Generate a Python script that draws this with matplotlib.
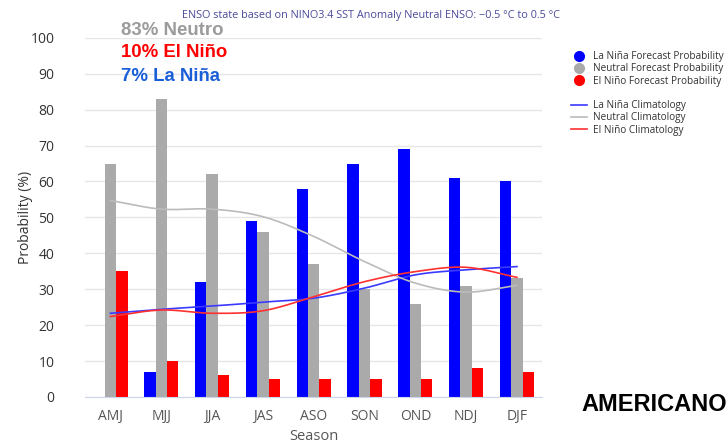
import numpy as np
import matplotlib.pyplot as plt
from matplotlib.lines import Line2D

# ENSO probabilities by season (%)
seasons = ['AMJ', 'MJJ', 'JJA', 'JAS', 'ASO', 'SON', 'OND', 'NDJ', 'DJF']
lanina_prob = [0, 7, 32, 49, 58, 65, 69, 61, 60]
neutral_prob = [65, 83, 62, 46, 37, 30, 26, 31, 33]
elnino_prob = [35, 10, 6, 5, 5, 5, 5, 8, 7]

# climatology curves
lanina_clim = [23.3, 24.4, 25.3, 26.4, 27.5, 30.3, 34.0, 35.4, 36.3]
neutral_clim = [54.7, 52.3, 52.3, 50.2, 44.7, 37.7, 31.7, 29.2, 31.1]
elnino_clim = [22.4, 24.2, 23.3, 24.0, 27.9, 32.1, 34.9, 36.1, 33.3]


def smooth(y, n=20):
    # Catmull-Rom spline through the points
    y = np.asarray(y, dtype=float)
    x = np.arange(len(y), dtype=float)
    m = np.gradient(y)
    xs, ys = [], []
    for i in range(len(y) - 1):
        t = np.linspace(0, 1, n, endpoint=False)
        h00 = 2*t**3 - 3*t**2 + 1
        h10 = t**3 - 2*t**2 + t
        h01 = -2*t**3 + 3*t**2
        h11 = t**3 - t**2
        xs.append(x[i] + t)
        ys.append(h00*y[i] + h10*m[i] + h01*y[i+1] + h11*m[i+1])
    xs.append([x[-1]])
    ys.append([y[-1]])
    return np.concatenate(xs), np.concatenate(ys)


plt.rcParams['font.family'] = ['Open Sans', 'DejaVu Sans']

fig = plt.figure(figsize=(7.27, 4.45), dpi=100)
ax = fig.add_axes([0.117, 0.108, 0.629, 0.807])

x = np.arange(len(seasons))
w = 0.225
ax.bar(x - w, lanina_prob, w, color='#0000ff', zorder=2)
ax.bar(x, neutral_prob, w, color='#aaaaaa', zorder=2)
ax.bar(x + w, elnino_prob, w, color='#ff0000', zorder=2)

for vals, c in [(lanina_clim, '#3a3aff'), (neutral_clim, '#bbbbbb'), (elnino_clim, '#ff3030')]:
    sx, sy = smooth(vals)
    ax.plot(sx, sy, color=c, lw=1.2, zorder=3)

ax.set_xlim(-0.5, len(seasons) - 0.5)
ax.set_ylim(0, 100)
ax.set_yticks(range(0, 101, 10))
ax.set_xticks(x)
ax.set_xticklabels(seasons)
ax.grid(axis='y', color='#e6e6e6', lw=1, zorder=0)
for s in ['top', 'right', 'left']:
    ax.spines[s].set_visible(False)
ax.spines['bottom'].set_color('#ccd6eb')
ax.tick_params(axis='both', length=0, labelsize=10, labelcolor='#333333')
ax.tick_params(axis='x', pad=9, labelcolor='#555555')
ax.tick_params(axis='y', pad=22)
ax.set_ylabel('Probability (%)', fontsize=10, color='#333333', labelpad=-2)
ax.set_xlabel('Season', fontsize=10.5, color='#555555', labelpad=3)

fig.text(0.511, 0.966, 'ENSO state based on NINO3.4 SST Anomaly Neutral ENSO: \u22120.5 \u00b0C to 0.5 \u00b0C',
         ha='center', va='center', fontsize=7.8, color='#4b4b9b')

fig.text(0.166, 0.931, '83% Neutro', fontsize=13.4, fontweight='bold', color='#9b9b9b',
         family=['Liberation Sans'], va='center')
fig.text(0.166, 0.881, '10% El Niño', fontsize=13.4, fontweight='bold', color='#ff0000',
         family=['Liberation Sans'], va='center')
fig.text(0.166, 0.829, '7% La Niña', fontsize=13.4, fontweight='bold', color='#1a5fd8',
         family=['Liberation Sans'], va='center')

fig.text(0.8, 0.09, 'AMERICANO', fontsize=17, fontweight='bold', color='black',
         family=['Liberation Sans'], va='center')

dots = [Line2D([], [], ls='none', marker='o', ms=7, color=c) for c in ['#0000ff', '#aaaaaa', '#ff0000']]
leg1 = fig.legend(dots, ['La Niña Forecast Probability', 'Neutral Forecast Probability',
                         'El Niño Forecast Probability'],
                  loc='upper left', bbox_to_anchor=(0.773, 0.905), frameon=False, fontsize=7.2,
                  labelspacing=0.12, handlelength=1.6, handletextpad=0.6, labelcolor='#333333')
lines = [Line2D([], [], lw=1.2, color=c) for c in ['#3a3aff', '#bbbbbb', '#ff3030']]
leg2 = fig.legend(lines, ['La Niña Climatology', 'Neutral Climatology', 'El Niño Climatology'],
                  loc='upper left', bbox_to_anchor=(0.773, 0.795), frameon=False, fontsize=7.2,
                  labelspacing=0.12, handlelength=1.6, handletextpad=0.6, labelcolor='#333333')

fig.savefig('out.png', dpi=100)
